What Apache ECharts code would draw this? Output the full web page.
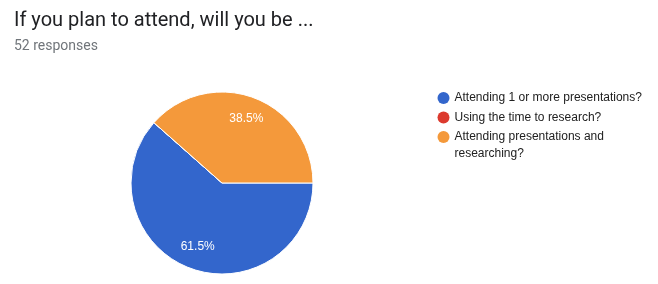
<!DOCTYPE html>
<html>
<head>
<meta charset="utf-8">
<script src="https://cdn.jsdelivr.net/npm/echarts@6/dist/echarts.min.js"></script>
<style>html,body{margin:0;padding:0;background:#fff;}#c{width:658px;height:284px;}</style>
</head>
<body>
<div id="c"></div>
<script>
var categories = ['Attending 1 or more presentations?', 'Using the time to research?', 'Attending presentations and researching?'];
var counts = [32, 0, 20];
var colors = ['#3366cc', '#dc3a2e', '#f4993b'];
var titleText = 'If you plan to attend, will you be ...';
var subtitleText = '52 responses';

var data = categories.map(function (c, i) { return { name: c, value: counts[i] }; });

var LEGEND_FONT = '12px "Liberation Sans", Arial, sans-serif';
var LEGEND_MAX_W = 195;
var LINE_H = 17;
var measureCtx = document.createElement('canvas').getContext('2d');
measureCtx.font = LEGEND_FONT;
function wrapName(name) {
  var words = name.split(' ');
  var lines = [];
  var cur = '';
  words.forEach(function (w) {
    var test = cur ? cur + ' ' + w : w;
    if (cur && measureCtx.measureText(test).width > LEGEND_MAX_W) {
      lines.push(cur);
      cur = w;
    } else {
      cur = test;
    }
  });
  if (cur) lines.push(cur);
  return lines;
}

var chart = echarts.init(document.getElementById('c'));
chart.setOption({
  animation: false,
  color: colors,
  title: {
    text: titleText,
    subtext: subtitleText,
    left: 9,
    top: 6,
    itemGap: 8,
    textStyle: { fontFamily: 'Roboto', fontSize: 20, fontWeight: 'normal', color: '#202124' },
    subtextStyle: { fontFamily: 'Roboto', fontSize: 14, color: '#70757a' }
  },
  legend: {
    orient: 'vertical',
    left: 437.5,
    top: 92,
    padding: 0,
    icon: 'circle',
    itemWidth: 12,
    itemHeight: 12,
    itemGap: -9.5,
    itemTextGap: 6,
    selectedMode: false,
    itemStyle: { borderWidth: 0 },
    formatter: function (name) {
      var lines = wrapName(name);
      var s = '{f|' + lines[0] + '}';
      for (var i = 1; i < lines.length; i++) s += '\n{l|' + lines[i] + '}';
      if (lines.length === 1) s += '\n{l|}';
      return s;
    },
    textStyle: {
      fontFamily: '"Liberation Sans", Arial, sans-serif',
      fontSize: 12,
      color: '#212121',
      rich: {
        f: { fontFamily: '"Liberation Sans", Arial, sans-serif', fontSize: 12, color: '#212121', lineHeight: 2 * LINE_H },
        l: { fontFamily: '"Liberation Sans", Arial, sans-serif', fontSize: 12, color: '#212121', lineHeight: 0 }
      }
    },
    data: categories
  },
  series: [
    {
      type: 'pie',
      center: [222, 183],
      radius: [0, 91],
      startAngle: 0,
      clockwise: true,
      label: { show: false },
      labelLine: { show: false },
      itemStyle: { borderColor: '#fff', borderWidth: 1 },
      emphasis: { disabled: true },
      data: data
    },
    {
      type: 'pie',
      center: [222, 183],
      radius: [40, 91],
      startAngle: 0,
      clockwise: true,
      silent: true,
      itemStyle: { color: 'rgba(0,0,0,0)' },
      label: {
        show: true,
        position: 'inside',
        fontFamily: '"Liberation Sans", Arial, sans-serif',
        fontSize: 12,
        color: '#ffffff',
        formatter: function (p) { return p.value > 0 ? p.percent.toFixed(1) + '%' : ''; }
      },
      labelLine: { show: false },
      emphasis: { disabled: true },
      legendHoverLink: false,
      data: data
    }
  ]
});
</script>
</body>
</html>
